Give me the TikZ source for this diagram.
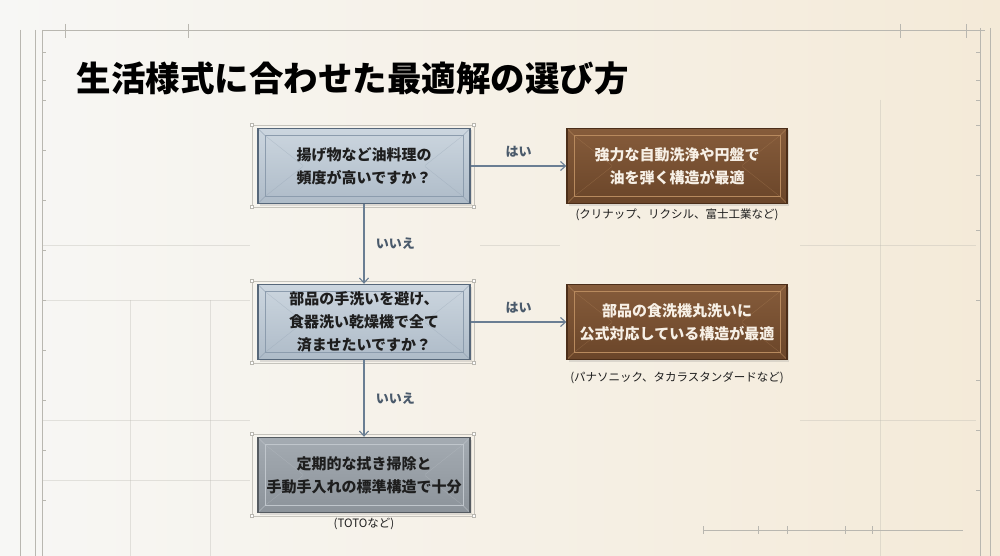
\documentclass[tikz,border=0pt]{standalone}
\usepackage{fontspec}
\setmainfont{Noto Sans CJK JP}
\usetikzlibrary{arrows.meta,shadows}
\definecolor{bgL}{HTML}{F7F7F5}
\definecolor{bgR}{HTML}{F4EAD8}
\definecolor{bpline}{HTML}{B9B7B0}
\definecolor{arrowc}{HTML}{6A7E93}
\definecolor{labc}{HTML}{4A5A6B}
\definecolor{qtop}{HTML}{CCD6DF}
\definecolor{qbot}{HTML}{AEBBC8}
\definecolor{qedge}{HTML}{56677A}
\definecolor{qin}{HTML}{8C9CAD}
\definecolor{wtop}{HTML}{865C3B}
\definecolor{wbot}{HTML}{6A4529}
\definecolor{wedge}{HTML}{4B2E19}
\definecolor{win}{HTML}{B88A5E}
\definecolor{gtop}{HTML}{A4ABB2}
\definecolor{gbot}{HTML}{8C939A}
\definecolor{gedge}{HTML}{555B61}
\definecolor{gin}{HTML}{C0C6CC}
\definecolor{txt}{HTML}{1E1E1E}
\definecolor{wtxt}{HTML}{F7F0E6}
\begin{document}
\begin{tikzpicture}[x=1pt,y=-1pt,
  boxbase/.style={minimum width=212pt,minimum height=75pt,align=center,
    font=\fontsize{15}{23}\selectfont\bfseries,line width=1.4pt,
    drop shadow={opacity=0.22,shadow xshift=1.5pt,shadow yshift=-2pt},
    inner sep=0pt},
  bevel/.style={path picture={
    \draw[#1,line width=0.8pt]
      ([xshift=7pt,yshift=-7pt]path picture bounding box.north west) rectangle
      ([xshift=-7pt,yshift=7pt]path picture bounding box.south east);
    \draw[#1,line width=0.5pt,opacity=0.7]
      (path picture bounding box.north west) -- ([xshift=7pt,yshift=-7pt]path picture bounding box.north west)
      (path picture bounding box.north east) -- ([xshift=-7pt,yshift=-7pt]path picture bounding box.north east)
      (path picture bounding box.south west) -- ([xshift=7pt,yshift=7pt]path picture bounding box.south west)
      (path picture bounding box.south east) -- ([xshift=-7pt,yshift=7pt]path picture bounding box.south east);
    \draw[#1,line width=0.4pt,opacity=0.35]
      ([xshift=7pt,yshift=-7pt]path picture bounding box.north west) -- ([xshift=45pt,yshift=-37pt]path picture bounding box.north west)
      ([xshift=-7pt,yshift=-7pt]path picture bounding box.north east) -- ([xshift=-45pt,yshift=-37pt]path picture bounding box.north east)
      ([xshift=7pt,yshift=7pt]path picture bounding box.south west) -- ([xshift=45pt,yshift=37pt]path picture bounding box.south west)
      ([xshift=-7pt,yshift=7pt]path picture bounding box.south east) -- ([xshift=-45pt,yshift=37pt]path picture bounding box.south east);
  }},
  qbox/.style={boxbase,draw=qedge,top color=qtop,bottom color=qbot,text=txt,bevel=qin},
  wbox/.style={boxbase,draw=wedge,top color=wtop,bottom color=wbot,text=wtxt,minimum width=220pt,bevel=win},
  gbox/.style={boxbase,draw=gedge,top color=gtop,bottom color=gbot,text=txt,bevel=gin},
  arr/.style={draw=arrowc,line width=1.1pt,-{Straight Barb[length=5pt,width=9pt]}},
  lab/.style={text=labc,font=\fontsize{13}{15}\selectfont\bfseries},
  note/.style={text=txt,font=\fontsize{11.5}{14}\selectfont},
  guide/.style={draw=bpline,line width=0.5pt}
]
\useasboundingbox (0,0) rectangle (1000,556);
\shade[left color=bgL,right color=bgR] (0,0) rectangle (1000,556);
% blueprint frame
\begin{scope}[guide]
  \draw (35,30) -- (35,556);
  \draw (42,30) -- (42,556);
  \draw (20,30) -- (20,556);
  \draw (42,30) -- (985,30);
  \foreach \y in {52,80,100,150,200,250,300,350,400,450,500}{\draw (42,\y) -- (46,\y);}
  \draw (65,24) -- (65,38);
  \draw (188,24) -- (188,38);
  \draw (900,24) -- (900,38);
  \draw (966,24) -- (966,38);
  \draw (980,28) -- (980,556);
  \draw (990,28) -- (990,556);
  \foreach \y in {52,80,100,125,175,230,300,380,430,490}{\draw (976,\y) -- (980,\y);}
  \draw (703,530) -- (963,530);
  \foreach \x in {703,758,787,845,872}{\draw (\x,526) -- (\x,534);}
\end{scope}
\begin{scope}[draw=bpline,line width=0.4pt,opacity=0.35]
  \draw (42,245) -- (250,245);
  \draw (42,300) -- (250,300);
  \draw (42,420) -- (250,420);
  \draw (130,300) -- (130,556);
  \draw (210,300) -- (210,556);
  \draw (42,480) -- (250,480);
  \draw (480,245) -- (560,245);
  \draw (800,245) -- (976,245);
  \draw (800,420) -- (976,420);
  \draw (880,100) -- (880,556);
\end{scope}
% title
\node[anchor=west,text=black,font=\fontsize{34.5}{38}\selectfont\bfseries] (title) at (73,78) {生活様式に合わせた最適解の選び方};
% guide frames around question boxes
\foreach \cy in {166,322,475}{
  \draw[guide,opacity=0.8] (252,\cy-41) rectangle (474,\cy+41);
  \foreach \px/\py in {252/-41,474/-41,252/41,474/41}{
    \draw[guide,fill=white] (\px-1.5,\cy+\py-1.5) rectangle (\px+1.5,\cy+\py+1.5);}
}
% boxes
\node[qbox] (q1) at (364,166) {揚げ物など油料理の\\頻度が高いですか？};
\node[qbox] (q2) at (364,322) {部品の手洗いを避け、\\食器洗い乾燥機で全て\\済ませたいですか？};
\node[gbox] (r3) at (364,475) {定期的な拭き掃除と\\手動手入れの標準構造で十分};
\node[wbox] (r1) at (677,166) {強力な自動洗浄や円盤で\\油を弾く構造が最適};
\node[wbox] (r2) at (677,322) {部品の食洗機丸洗いに\\公式対応している構造が最適};
% notes
\node[note] (n1) at (677,215) {(クリナップ、リクシル、富士工業など)};
\node[note] (n2) at (677,378) {(パナソニック、タカラスタンダードなど)};
\node[note] (n3) at (364,524) {(TOTOなど)};
% connectors
\draw[arr] (q1.east) -- node[lab,above=5pt] {はい} (r1.west);
\draw[arr] (q2.east) -- node[lab,above=5pt] {はい} (r2.west);
\draw[arr] (q1.south) -- node[lab,right=8pt] {いいえ} (q2.north);
\draw[arr] (q2.south) -- node[lab,right=8pt] {いいえ} (r3.north);
\end{tikzpicture}
\end{document}
